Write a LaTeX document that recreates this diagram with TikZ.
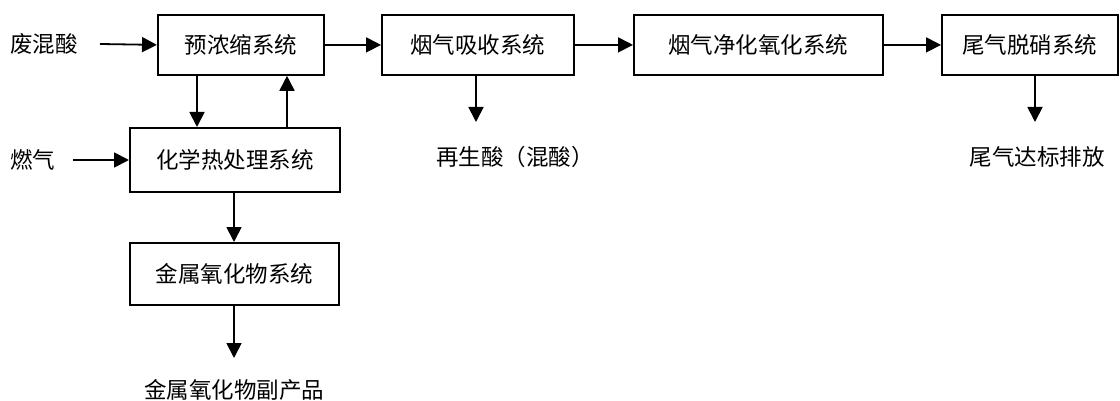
\documentclass[tikz,border=0pt]{standalone}
\usepackage{fontspec}
\setmainfont{Noto Sans CJK SC}
\usetikzlibrary{arrows.meta}
\begin{document}
\begin{tikzpicture}[x=1pt,y=-1pt,
  sysbox/.style={draw,line width=1.8pt,inner sep=0pt,anchor=north west},
  lbl/.style={font=\fontsize{22.5}{26}\selectfont,inner sep=0pt},
  flow/.style={line width=1.8pt,-{Triangle[length=15pt,width=15pt]}}]
\useasboundingbox (0,0) rectangle (1120,401);
% boxes
\node[sysbox,minimum width=166pt,minimum height=60pt] (pre) at (157,14) {};
\node[lbl] at (pre.center) {预浓缩系统};
\node[sysbox,minimum width=192pt,minimum height=60pt] (abs) at (381,14) {};
\node[lbl] at (abs.center) {烟气吸收系统};
\node[sysbox,minimum width=249pt,minimum height=60pt] (pur) at (633,14) {};
\node[lbl] at (pur.center) {烟气净化氧化系统};
\node[sysbox,minimum width=176pt,minimum height=60pt] (den) at (941,14) {};
\node[lbl] at (den.center) {尾气脱硝系统};
\node[sysbox,minimum width=210pt,minimum height=64pt] (heat) at (129,127) {};
\node[lbl] at (heat.center) {化学热处理系统};
\node[sysbox,minimum width=209pt,minimum height=62pt] (met) at (129,242) {};
\node[lbl] at (met.center) {金属氧化物系统};
% labels
\node[lbl,anchor=west] (acid) at (10,44) {废混酸};
\node[lbl,anchor=west] (gas) at (10,160) {燃气};
\node[lbl] (regen) at (515,157) {再生酸（混酸）};
\node[lbl] (tail) at (1037,157) {尾气达标排放};
\node[lbl] (byp) at (234,390) {金属氧化物副产品};
% coordinates
\coordinate (acidS) at (100,44);
\coordinate (gasS) at (73,160);
\coordinate (regE) at (476,122);
\coordinate (tailE) at (1035,122);
\coordinate (bypE) at (234,358);
% connectors
\draw[flow] (acidS) -- (pre.west);
\draw[flow] (gasS) -- (gasS -| heat.west);
\draw[flow] (pre.east) -- (abs.west);
\draw[flow] (abs.east) -- (pur.west);
\draw[flow] (pur.east) -- (den.west);
\draw[flow] (197,0 |- pre.south) -- (197,0 |- heat.north);
\draw[flow] (287,0 |- heat.north) -- (287,0 |- pre.south);
\draw[flow] (234,0 |- heat.south) -- (234,0 |- met.north);
\draw[flow] (234,0 |- met.south) -- (bypE);
\draw[flow] (regE |- abs.south) -- (regE);
\draw[flow] (tailE |- den.south) -- (tailE);
\end{tikzpicture}
\end{document}
